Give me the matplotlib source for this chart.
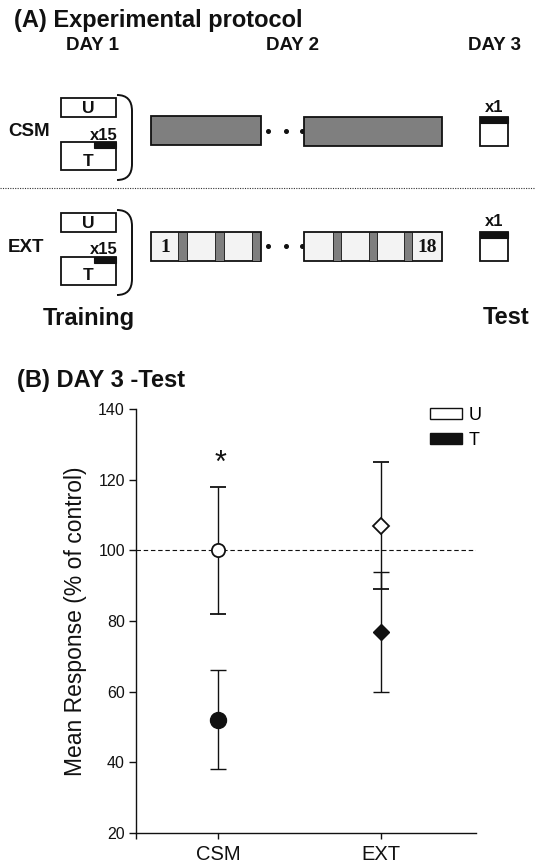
import matplotlib
matplotlib.use("Agg")
import matplotlib.pyplot as plt
from matplotlib.patches import Rectangle, PathPatch, Patch
from matplotlib.path import Path
from matplotlib.transforms import offset_copy

plt.rcParams['font.family'] = ['Liberation Sans', 'DejaVu Sans']

# ---- data (panel B) ----
groups = ['CSM', 'EXT']
u_mean = [100, 107]
u_err = [18, 18]
t_mean = [52, 77]
t_err = [14, 17]
y_ticks = [20, 40, 60, 80, 100, 120, 140]
control_level = 100
sig_marker_value = 127

W, H = 535, 868
fig = plt.figure(figsize=(W / 100, H / 100), dpi=100)

# ---- panel A: schematic in pixel coordinates ----
ax0 = fig.add_axes([0, 0, 1, 1])
ax0.set_xlim(0, W)
ax0.set_ylim(H, 0)
ax0.axis('off')

BLK = '#111111'
GRAY = '#7f7f7f'
LIGHT = '#f3f3f3'

def rect(x0, y0, x1, y1, fc='white', ec=BLK, lw=1.3, z=2):
    ax0.add_patch(Rectangle((x0, y0), x1 - x0, y1 - y0, facecolor=fc,
                            edgecolor=ec, linewidth=lw, zorder=z))

def bracket(ytop, ybot):
    x0, x1 = 117, 132
    verts = [(x0, ytop), (x1, ytop), (x1, ytop + 16), (x1, ybot - 16),
             (x1, ybot), (x0, ybot)]
    codes = [Path.MOVETO, Path.CURVE3, Path.CURVE3, Path.LINETO,
             Path.CURVE3, Path.CURVE3]
    ax0.add_patch(PathPatch(Path(verts, codes), facecolor='none',
                            edgecolor=BLK, linewidth=1.4))

bold = dict(fontweight='bold', color=BLK)
ax0.text(14, 21, '(A) Experimental protocol', fontsize=17, ha='left', va='center', **bold)
ax0.text(92, 46, 'DAY 1', fontsize=13.5, ha='center', va='center', **bold)
ax0.text(293, 46, 'DAY 2', fontsize=13.5, ha='center', va='center', **bold)
ax0.text(494, 46, 'DAY 3', fontsize=13.5, ha='center', va='center', **bold)

def training_block(yoff, label):
    # U box
    rect(61, 98 + yoff, 116, 117 + yoff)
    ax0.text(88.5, 108.5 + yoff, 'U', fontsize=12.5, ha='center', va='center', **bold)
    # T box
    rect(61, 142 + yoff, 116, 170 + yoff)
    rect(94, 142 + yoff, 116, 148 + yoff, fc=BLK, lw=0.8, z=3)
    ax0.text(88.5, 161 + yoff, 'T', fontsize=12.5, ha='center', va='center', **bold)
    ax0.text(104, 135 + yoff, 'x15', fontsize=12, ha='center', va='center', **bold)
    ax0.text(8, 132 + yoff, label, fontsize=13.5, ha='left', va='center', **bold)
    bracket(95 + yoff, 180 + yoff)
    # dots
    for xd in (268, 286, 302):
        ax0.plot(xd, 131 + yoff, 'o', color=BLK, markersize=2.6)
    # day 3 test box
    rect(480, 117 + yoff, 508, 146 + yoff)
    rect(480, 117 + yoff, 508, 123 + yoff, fc=BLK, lw=0.8, z=3)
    ax0.text(494, 107 + yoff, 'x1', fontsize=12, ha='center', va='center', **bold)

# CSM row
training_block(0, 'CSM')
rect(151, 116, 261, 145, fc=GRAY)
rect(304, 117, 442, 146, fc=GRAY)

# dotted separator
ax0.plot([0, W], [188, 188], linestyle=(0, (1, 1.2)), color='#333333', linewidth=0.8)

# EXT row
training_block(115, 'EXT')
y0, y1 = 232, 261
rect(151, y0, 261, y1, fc=LIGHT)
for gx0, gx1 in [(178, 187), (215, 224), (252, 260)]:
    rect(gx0, y0, gx1, y1, fc=GRAY, lw=0.6, z=3)
rect(304, y0, 442, y1, fc=LIGHT)
for gx0, gx1 in [(333, 341), (369, 377), (404, 412)]:
    rect(gx0, y0, gx1, y1, fc=GRAY, lw=0.6, z=3)
ax0.text(165, 247, '1', fontsize=14, ha='center', va='center', fontweight='bold',
         family=['Liberation Serif', 'DejaVu Serif'], color=BLK)
ax0.text(427, 247, '18', fontsize=14, ha='center', va='center', fontweight='bold',
         family=['Liberation Serif', 'DejaVu Serif'], color=BLK)

ax0.text(43, 318, 'Training', fontsize=17, ha='left', va='center', **bold)
ax0.text(483, 318, 'Test', fontsize=17, ha='left', va='center', **bold)

ax0.text(17, 380, '(B) DAY 3 -Test', fontsize=17, ha='left', va='center', **bold)

# ---- panel B: data plot ----
left, right, top, bottom = 136, 476, 409, 833
ax = fig.add_axes([left / W, 1 - bottom / H, (right - left) / W, (bottom - top) / H])
xpos = [1, 2]
ax.set_xlim(0.497, 2.583)
ax.set_ylim(20, 140)

ax.axhline(control_level, color=BLK, linestyle=(0, (4, 2.5)), linewidth=0.8, zorder=1)

ekw = dict(ecolor=BLK, elinewidth=1.0, capsize=6, capthick=1.0, linestyle='none', zorder=3)
# U
ax.errorbar(xpos[0], u_mean[0], yerr=u_err[0], marker='o', markersize=9.5,
            mfc='white', mec=BLK, mew=1.3, **ekw)
ax.errorbar(xpos[1], u_mean[1], yerr=u_err[1], marker='D', markersize=8.5,
            mfc='white', mec=BLK, mew=1.3, **ekw)
# T
ax.errorbar(xpos[0], t_mean[0], yerr=t_err[0], marker='o', markersize=11.5,
            mfc=BLK, mec=BLK, mew=1.0, **ekw)
ax.errorbar(xpos[1], t_mean[1], yerr=t_err[1], marker='D', markersize=8.5,
            mfc=BLK, mec=BLK, mew=1.0, **ekw)

# significance asterisk: glyph centre ~17 px above the baseline
star_tr = offset_copy(ax.transData, fig=fig, x=3, y=-17, units='dots')
ax.text(xpos[0], sig_marker_value, '*', fontsize=22, ha='center', va='baseline',
        color=BLK, transform=star_tr)

ax.spines['top'].set_visible(False)
ax.spines['right'].set_visible(False)
for s in ('left', 'bottom'):
    ax.spines[s].set_linewidth(1.0)
    ax.spines[s].set_color(BLK)

ax.set_yticks(y_ticks)
ax.set_xticks([0.497] + xpos)
ax.set_xticklabels([''] + groups)
ax.tick_params(axis='y', direction='out', length=5, width=1.0, labelsize=11.5, pad=3, colors=BLK)
ax.tick_params(axis='x', direction='out', length=4.5, width=1.0, labelsize=14.5, pad=4, colors=BLK)
ax.set_ylabel('Mean Response (% of control)', fontsize=16.5, labelpad=8, color=BLK)

handles = [Patch(facecolor='white', edgecolor=BLK, linewidth=1.0, label='U'),
           Patch(facecolor=BLK, edgecolor=BLK, linewidth=1.0, label='T')]
leg = ax.legend(handles=handles, loc='upper left', bbox_to_anchor=(430 / W, 1 - 407 / H),
                bbox_transform=fig.transFigure, frameon=False, fontsize=13,
                handlelength=1.75, handleheight=0.6, handletextpad=0.4,
                labelspacing=0.45, borderpad=0, borderaxespad=0)

fig.savefig('out.png', dpi=100)
